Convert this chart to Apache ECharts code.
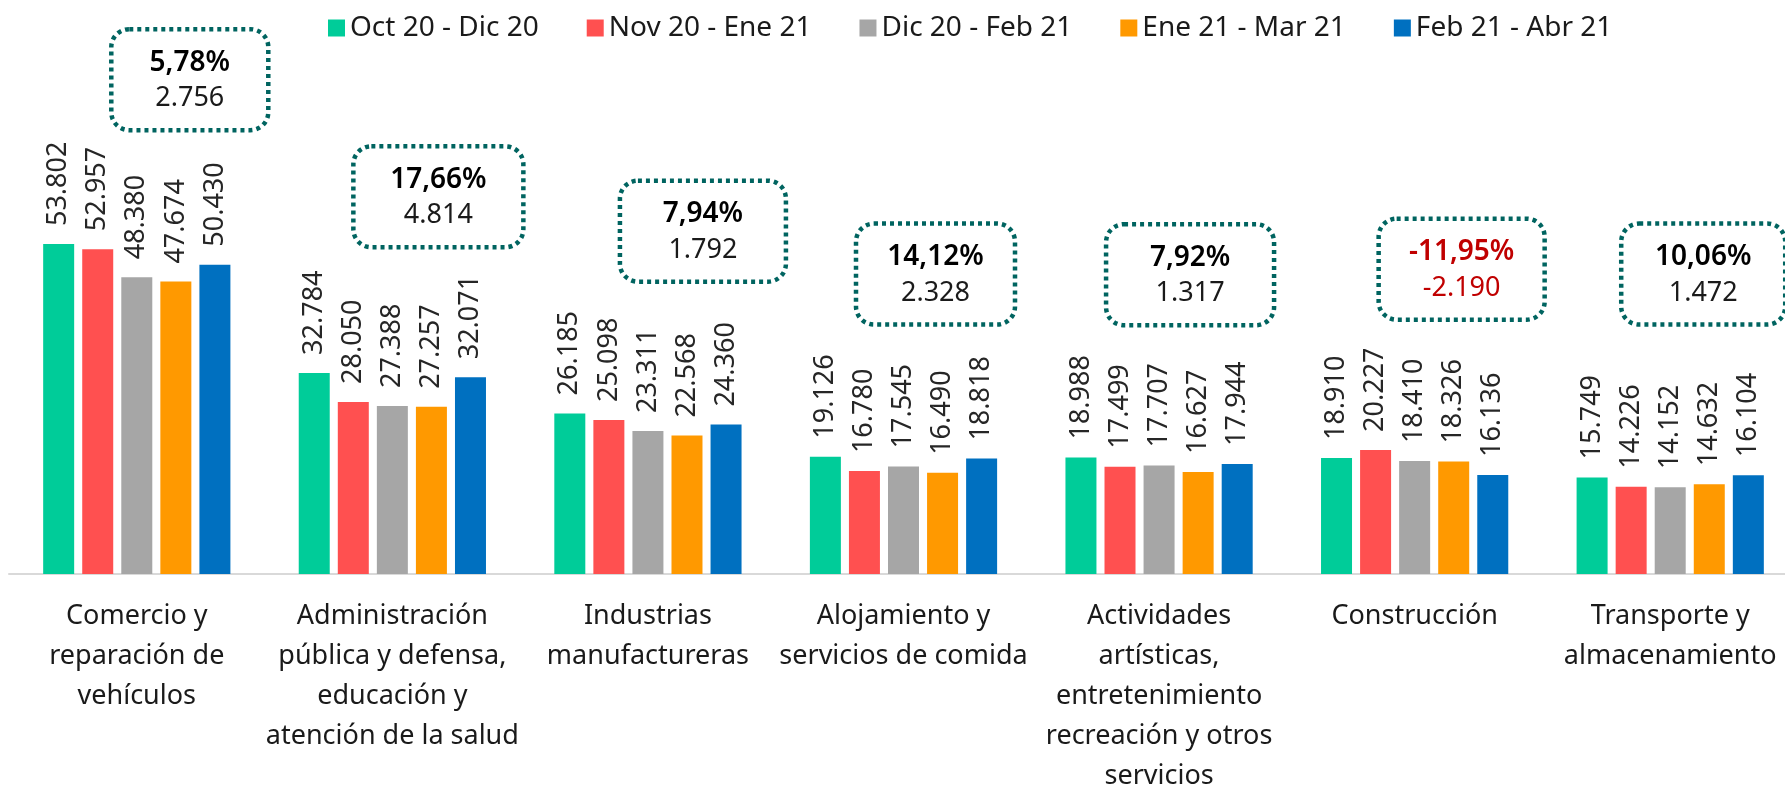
<!DOCTYPE html>
<html>
<head>
<meta charset="utf-8">
<script src="https://cdn.jsdelivr.net/npm/echarts@6/dist/echarts.min.js"></script>
<style>html,body{margin:0;padding:0;background:#fff;}#c{width:1785px;height:785px;}</style>
</head>
<body>
<div id="c"></div>
<script>
// ---- data ----
const categories = [
  "Comercio y\nreparación de\nvehículos",
  "Administración\npública y defensa,\neducación y\natención de la salud",
  "Industrias\nmanufactureras",
  "Alojamiento y\nservicios de comida",
  "Actividades\nartísticas,\nentretenimiento\nrecreación y otros\nservicios",
  "Construcción",
  "Transporte y\nalmacenamiento"
];
const seriesNames = ["Oct 20 - Dic 20", "Nov 20 - Ene 21", "Dic 20 - Feb 21", "Ene 21 - Mar 21", "Feb 21 - Abr 21"];
const octDic = [53802, 32784, 26185, 19126, 18988, 18910, 15749];
const novEne = [52957, 28050, 25098, 16780, 17499, 20227, 14226];
const dicFeb = [48380, 27388, 23311, 17545, 17707, 18410, 14152];
const eneMar = [47674, 27257, 22568, 16490, 16627, 18326, 14632];
const febAbr = [50430, 32071, 24360, 18818, 17944, 16136, 16104];

// ---- layout (callout boxes) ----
const boxLevel = [80600, 61500, 55900, 48900, 48800, 49700, 48900]; // box centre, in axis units
const boxDx = [53, 46, 55, 32, 31, 47, 33];
const boxW = [157, 170, 166, 159, 168, 166, 164];

const colors = ["#00CC99", "#FF5050", "#A6A6A6", "#FF9900", "#0070C0"];
const FONT = '"Noto Sans", "Open Sans", sans-serif';

function fmtInt(n) {
  const s = String(Math.abs(Math.round(n))).replace(/\B(?=(\d{3})+(?!\d))/g, '.');
  return (n < 0 ? '-' : '') + s;
}
function fmtPct(p) {
  return p.toFixed(2).replace('.', ',') + '%';
}

const allSeries = [octDic, novEne, dicFeb, eneMar, febAbr];
const diffs = febAbr.map((v, i) => v - eneMar[i]);
const pcts = febAbr.map((v, i) => (v - eneMar[i]) / eneMar[i] * 100);

const chart = echarts.init(document.getElementById('c'), null, {renderer: 'canvas'});

const barSeries = allSeries.map((arr, k) => ({
  name: seriesNames[k],
  type: 'bar',
  data: arr,
  barWidth: 31,
  barGap: '26%',
  itemStyle: {color: colors[k]},
  label: {
    show: true,
    position: 'top',
    rotate: 90,
    align: 'left',
    verticalAlign: 'middle',
    distance: 18,
    fontFamily: FONT,
    fontSize: 27,
    color: '#262626',
    formatter: p => fmtInt(p.value)
  },
  emphasis: {disabled: true}
}));

const boxSeries = {
  type: 'custom',
  name: 'callouts',
  clip: false,
  silent: true,
  data: categories.map((c, i) => [i, boxLevel[i]]),
  encode: {x: 0, y: 1},
  renderItem: function (params, api) {
    const i = api.value(0);
    const p = api.coord([i, api.value(1)]);
    const cx = p[0] + boxDx[i];
    const cy = p[1];
    const w = boxW[i], h = 101;
    const neg = diffs[i] < 0;
    return {
      type: 'group',
      children: [
        {type: 'rect', shape: {x: cx - w / 2, y: cy - h / 2, width: w, height: h, r: 18},
          style: {fill: '#fff', stroke: '#006460', lineWidth: 4.5, lineDash: [4, 4]}},
        {type: 'text', style: {text: fmtPct(pcts[i]), x: cx, y: cy - 17, align: 'center', verticalAlign: 'middle',
          fontFamily: FONT, fontSize: 28, fontWeight: 600, fill: neg ? '#C00000' : '#000'}},
        {type: 'text', style: {text: fmtInt(diffs[i]), x: cx, y: cy + 19, align: 'center', verticalAlign: 'middle',
          fontFamily: FONT, fontSize: 27, fill: neg ? '#C00000' : '#1a1a1a'}}
      ]
    };
  }
};

chart.setOption({
  animation: false,
  backgroundColor: '#fff',
  legend: {
    data: seriesNames,
    left: 323,
    top: 9,
    itemWidth: 17,
    itemHeight: 17,
    itemGap: 48,
    icon: 'rect',
    textStyle: {fontFamily: FONT, fontSize: 28, color: '#1a1a1a'}
  },
  grid: {left: 9, top: 22, width: 1789, height: 552, containLabel: false, outerBoundsMode: 'none'},
  xAxis: {
    type: 'category',
    data: categories,
    axisLine: {lineStyle: {color: '#D9D9D9', width: 2}},
    axisTick: {show: false},
    axisLabel: {
      interval: 0,
      margin: 22,
      fontFamily: FONT,
      fontSize: 27,
      lineHeight: 40,
      color: '#1a1a1a',
      align: 'center'
    }
  },
  yAxis: {type: 'value', min: 0, max: 90000, show: false, splitLine: {show: false}},
  series: [...barSeries, boxSeries]
});
</script>
</body>
</html>
